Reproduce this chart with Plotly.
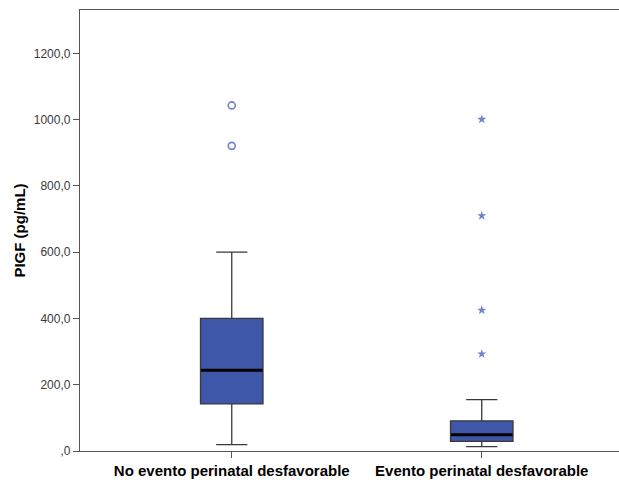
import plotly.graph_objects as go

# Groups and five-number summaries of PlGF (pg/mL)
groups = ["No evento perinatal desfavorable", "Evento perinatal desfavorable"]
lower_fence = [19, 13]
q1 = [142, 29]
median = [244, 49]
q3 = [400, 91]
upper_fence = [600, 155]

# Outliers (circles) and extreme values (stars)
outliers_no = [1043, 921]
extremes_ev = [1001, 710, 425, 293]

tick_vals = [0, 200, 400, 600, 800, 1000, 1200]
tick_text = [",0", "200,0", "400,0", "600,0", "800,0", "1000,0", "1200,0"]

box_fill = "#3E57A9"
point_color = "#7083CC"
axis_color = "#555555"

fig = go.Figure()

fig.add_trace(go.Box(
    x=groups,
    q1=q1, median=median, q3=q3,
    lowerfence=lower_fence, upperfence=upper_fence,
    fillcolor=box_fill,
    line=dict(color="#3a3a3a", width=1.3),
    width=0.25,
    whiskerwidth=0.5,
    boxpoints=False,
    showlegend=False,
    hoverinfo="skip",
))

# Thick black median line drawn across each box
fig.add_trace(go.Scatter(
    x=groups, y=median, mode="markers",
    marker=dict(symbol="line-ew", size=44, line=dict(color="black", width=3)),
    showlegend=False, hoverinfo="skip",
))

fig.add_trace(go.Scatter(
    x=[groups[0]] * len(outliers_no), y=outliers_no, mode="markers",
    marker=dict(symbol="circle-open", size=7, color=point_color, line=dict(width=1.6, color=point_color)),
    showlegend=False,
))

fig.add_trace(go.Scatter(
    x=[groups[1]] * len(extremes_ev), y=extremes_ev, mode="markers",
    marker=dict(symbol="star", size=7, color=point_color, line=dict(width=0)),
    showlegend=False,
))

fig.update_layout(
    width=619, height=486,
    margin=dict(l=80, r=0, t=10, b=35),
    plot_bgcolor="white", paper_bgcolor="white",
    font=dict(family="Liberation Sans, Arial, sans-serif", color="#222222"),
)

fig.update_xaxes(
    type="category",
    range=[-0.607, 1.549],
    showline=True, linecolor=axis_color, linewidth=1.3, mirror=True,
    ticks="outside", ticklen=6, tickcolor=axis_color, tickwidth=1.3,
    tickfont=dict(size=15, color="black", family="Liberation Sans, Arial, sans-serif"),
    ticktext=["<b>" + g + "</b>" for g in groups], tickvals=groups,
    showgrid=False, zeroline=False,
)

fig.update_yaxes(
    range=[0, 1331],
    showline=True, linecolor=axis_color, linewidth=1.3,
    ticks="outside", ticklen=6, tickcolor=axis_color, tickwidth=1.3,
    tickvals=tick_vals, ticktext=tick_text,
    tickfont=dict(size=12, color="#3a3a3a"),
    showgrid=False, zeroline=False,
    title=dict(text="<b>PIGF (pg/mL)</b>", font=dict(size=15, color="black"), standoff=4),
)

fig.write_html("out.html")
